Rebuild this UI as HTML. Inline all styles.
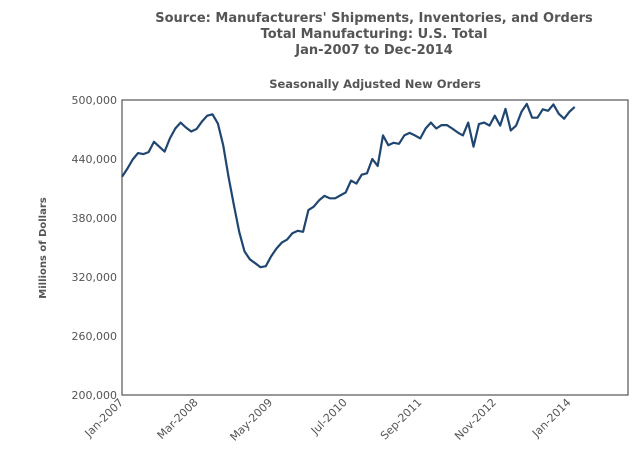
<!DOCTYPE html>
<html><head><meta charset="utf-8"><style>
body{margin:0;background:#fff;}
svg{display:block;font-family:"DejaVu Sans","Liberation Sans",sans-serif;}
</style></head><body>
<svg id="chart" width="644" height="461" viewBox="0 0 644 461">
<g fill="#555" font-weight="bold" font-size="13" text-anchor="middle">
<text x="374" y="22">Source: Manufacturers' Shipments, Inventories, and Orders</text>
<text x="374" y="38">Total Manufacturing: U.S. Total</text>
<text x="374" y="54">Jan-2007 to Dec-2014</text>
</g>
<text x="375" y="88" fill="#555" font-weight="bold" font-size="11.5" text-anchor="middle">Seasonally Adjusted New Orders</text>
<text transform="translate(46,248) rotate(-90)" fill="#555" font-weight="bold" font-size="10" text-anchor="middle">Millions of Dollars</text>
<g id="yaxis"></g>
<g id="xaxis"></g>
<rect x="122" y="100" width="506" height="295" fill="none" stroke="#555" stroke-width="1.2"/>
<path id="line" fill="none" stroke="#1f4670" stroke-width="2.2" stroke-linejoin="round"/>
</svg>
<script>
const yTicks=[200000,260000,320000,380000,440000,500000];
const yTickLabels=["200,000","260,000","320,000","380,000","440,000","500,000"];
const xTickIdx=[0,14,28,42,56,70,84];
const xTickLabels=["Jan-2007","Mar-2008","May-2009","Jul-2010","Sep-2011","Nov-2012","Jan-2014"];
const values=[422,430,439.5,446,445,447,457.5,452.5,447.5,461,471,477,472,468,470.5,478,484,485.5,476,454,422,393,366,346,338,334,330,331,341,349,355,358,364.5,367,366,388,391.5,398,402.5,400,400,403,406,418,415,424,425.5,440,433,464,454,456.5,455.5,464,466.5,464,461,471,477,471,474.5,474.5,471,467,464,477,452.5,475.5,477,474,484,474,491,469,474,488,496,482,482,490.5,489,495.5,486,481,488,493];
const NM=96,L=122,R=628,T=100,B=395,YMIN=200000,YMAX=500000;
const xs=i=>L+i*(R-L)/(NM-1);
const ys=v=>B-(v-YMIN)/(YMAX-YMIN)*(B-T);
const NS="http://www.w3.org/2000/svg";
const ya=document.getElementById('yaxis'),xa=document.getElementById('xaxis');
yTicks.forEach((t,k)=>{
 const tx=document.createElementNS(NS,'text');
 
 
 tx.setAttribute('x',117);tx.setAttribute('y',ys(t)+4);
 tx.setAttribute('text-anchor','end');tx.setAttribute('font-size','11');tx.setAttribute('fill','#555');
 tx.textContent=yTickLabels[k];ya.appendChild(tx);
});
xTickIdx.forEach((i,k)=>{
 const tx=document.createElementNS(NS,'text');
 
 
 const x=xs(i)+2,y=B+8;
 tx.setAttribute('transform','translate('+x+','+y+') rotate(-45)');
 tx.setAttribute('text-anchor','end');tx.setAttribute('font-size','11');tx.setAttribute('fill','#555');
 tx.textContent=xTickLabels[k];xa.appendChild(tx);
});
document.getElementById('line').setAttribute('d',values.map((v,i)=>(i?'L':'M')+xs(i).toFixed(1)+','+ys(v*1000).toFixed(1)).join(''));
</script>
</body></html>
